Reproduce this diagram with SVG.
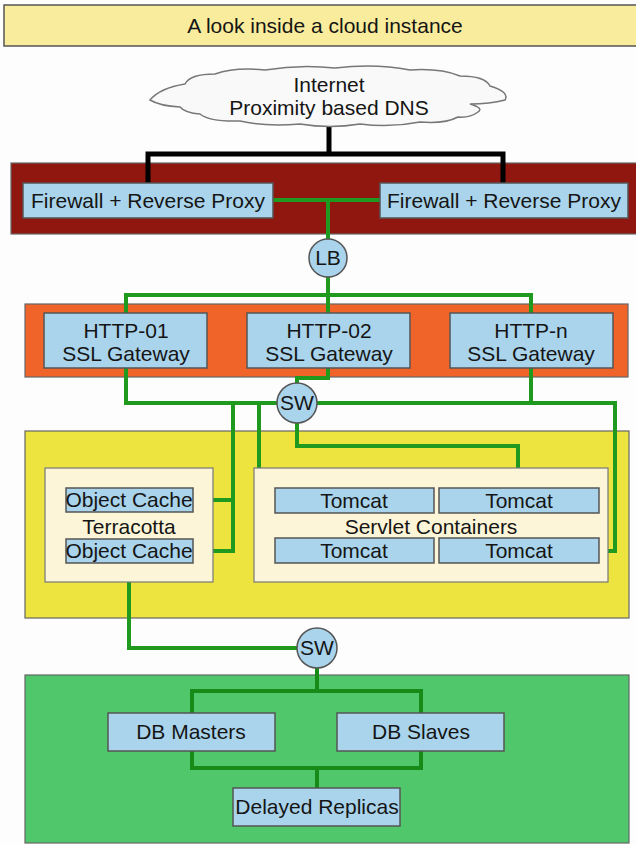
<svg xmlns="http://www.w3.org/2000/svg" width="636" height="845" viewBox="0 0 636 845">
<style>
text{font-family:"Liberation Sans",Arial,sans-serif;font-size:21px;fill:#151515;text-anchor:middle}
.box{fill:#a9d4ec;stroke:#555;stroke-width:1.5}
.band{stroke:#666;stroke-width:1.2}
.inner{fill:#fdf5d8;stroke:#777;stroke-width:1.2}
.g{fill:none;stroke:#1f9a1f;stroke-width:4;stroke-linejoin:miter}
.gd{fill:none;stroke:#178a17;stroke-width:4}
.k{fill:none;stroke:#000;stroke-width:5}
.c{fill:#a9d4ec;stroke:#555;stroke-width:1.5}
</style>
<rect width="636" height="845" fill="#fdfdfd"/>
<g id="title">
<rect x="4" y="5" width="640" height="41" fill="#f9ec9c" stroke="#555" stroke-width="1.5"/>
<text x="325" y="33">A look inside a cloud instance</text>
</g>
<g id="bands">
<rect class="band" x="11" y="163" width="630" height="71" fill="#8f170f"/>
<rect class="band" x="25" y="304" width="603" height="73" fill="#f0642a"/>
<rect class="band" x="25" y="431" width="604" height="187" fill="#eee440"/>
<rect class="band" x="25" y="675" width="604" height="168" fill="#50c76a"/>
</g>
<g id="connectors">
<path class="k" d="M329,124 V154 M148,185 V154 H503 V185"/>
<path class="g" d="M273,200 H380 M328,200 V240"/>
<path class="g" d="M328,276 V295 M126,313 V295 H531 V313 M328,295 V313"/>
<path class="g" d="M126,368 V403 H615 V551 H599 M531,368 V403 M328,368 V378 H297 V390"/>
<path class="g" d="M233,403 V551 H193 M233,500 H193 M259,403 V551 H275 M259,500 H275"/>
<path class="g" d="M297,420 V446 H518 V488"/>
<path class="g" d="M129,582 V648 H300"/>
<path class="gd" d="M317,666 V691 M192,713 V691 H421 V713 M192,751 V768 H421 V751 M317,768 V788"/>
</g>
<g id="internet">
<path d="M150,100 Q160,88 185,84 Q190,74 215,74 Q235,67 265,70 Q300,64 335,68 Q375,63 410,70 Q440,68 460,76 Q485,76 490,86 Q510,92 505,100 Q490,104 470,104 Q484,108 478,112 Q470,118 458,117 Q445,124 420,122 Q390,128 360,124 Q330,129 300,124 Q265,127 240,121 Q210,122 200,114 Q185,113 180,107 Q160,106 150,100 Z" fill="#f9f9f9" stroke="#777" stroke-width="1.5"/>
<text x="329" y="92">Internet</text>
<text x="329" y="115">Proximity based DNS</text>
</g>
<g id="fw1"><rect class="box" x="23" y="183" width="250" height="35"/><text x="148" y="208">Firewall + Reverse Proxy</text></g>
<g id="fw2"><rect class="box" x="380" y="183" width="248" height="35"/><text x="504" y="208">Firewall + Reverse Proxy</text></g>
<g id="lb"><circle class="c" cx="328" cy="258" r="19"/><text x="328" y="265">LB</text></g>
<g id="http01"><rect class="box" x="44" y="313" width="163" height="55"/><text x="126" y="338">HTTP-01</text><text x="126" y="361">SSL Gateway</text></g>
<g id="http02"><rect class="box" x="247" y="313" width="163" height="55"/><text x="329" y="338">HTTP-02</text><text x="329" y="361">SSL Gateway</text></g>
<g id="httpn"><rect class="box" x="450" y="313" width="163" height="55"/><text x="531" y="338">HTTP-n</text><text x="531" y="361">SSL Gateway</text></g>
<g id="sw1"><circle class="c" cx="297" cy="403" r="20"/><text x="297" y="410">SW</text></g>
<g id="terracotta">
<rect class="inner" x="45" y="468" width="168" height="114"/>
<text x="129" y="534">Terracotta</text>
<g id="cache1"><rect class="box" x="66" y="488" width="127" height="24"/><text x="129" y="507">Object Cache</text></g>
<g id="cache2"><rect class="box" x="66" y="539" width="127" height="24"/><text x="129" y="558">Object Cache</text></g>
</g>
<g id="servlets">
<rect class="inner" x="254" y="468" width="354" height="114"/>
<text x="431" y="534">Servlet Containers</text>
<g id="tomcat1"><rect class="box" x="275" y="488" width="159" height="25"/><text x="354" y="508">Tomcat</text></g>
<g id="tomcat2"><rect class="box" x="439" y="488" width="160" height="25"/><text x="519" y="508">Tomcat</text></g>
<g id="tomcat3"><rect class="box" x="275" y="538" width="159" height="25"/><text x="354" y="558">Tomcat</text></g>
<g id="tomcat4"><rect class="box" x="439" y="538" width="160" height="25"/><text x="519" y="558">Tomcat</text></g>
</g>
<g id="sw2"><circle class="c" cx="317" cy="648" r="20"/><text x="317" y="655">SW</text></g>
<g id="dbmasters"><rect class="box" x="108" y="713" width="167" height="38"/><text x="191" y="739">DB Masters</text></g>
<g id="dbslaves"><rect class="box" x="337" y="713" width="167" height="38"/><text x="421" y="739">DB Slaves</text></g>
<g id="replicas"><rect class="box" x="233" y="788" width="167" height="38"/><text x="317" y="814">Delayed Replicas</text></g>
</svg>
